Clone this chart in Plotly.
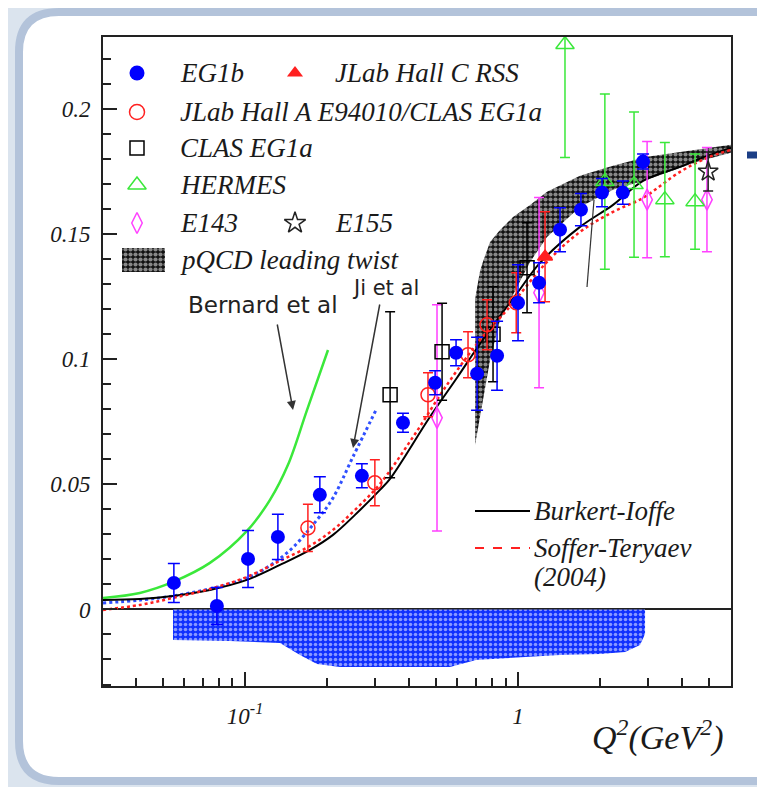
import plotly.graph_objects as go

# ---------------- data ----------------
eg1b_q2 = [0.0549, 0.0789, 0.1026, 0.132, 0.188, 0.268, 0.379, 0.497, 0.593, 0.708, 0.838, 1.0,
           1.194, 1.425, 1.70, 2.03, 2.42, 2.87]
eg1b_val = [0.0106, 0.0014, 0.0202, 0.029, 0.0458, 0.0534, 0.0746, 0.0906, 0.1026, 0.0942, 0.1014,
            0.1226, 0.1306, 0.1518, 0.1598, 0.1666, 0.1666, 0.179]
eg1b_err = [0.0078, 0.0074, 0.0114, 0.009, 0.0072, 0.0048, 0.0038, 0.0048, 0.0052, 0.0146, 0.0138,
            0.0152, 0.008, 0.0088, 0.0064, 0.0056, 0.0046, 0.003]

halla_q2 = [0.170, 0.299, 0.468, 0.656, 0.770, 0.985]
halla_val = [0.0326, 0.0506, 0.0858, 0.1018, 0.1138, 0.1226]
halla_err = [0.0094, 0.0092, 0.0088, 0.0092, 0.010, 0.012]

rss_q2 = [1.256]
rss_val = [0.141]
rss_err = [0.018]

eg1a_q2 = [0.340, 0.527, 0.810, 1.079]
eg1a_val = [0.0858, 0.103, 0.110, 0.1366]
eg1a_err = [0.0332, 0.0194, 0.019, 0.018]

hermes_q2 = [1.486, 2.08, 2.66, 3.45, 4.45]
hermes_val = [0.2258, 0.171, 0.1698, 0.1638, 0.163]
hermes_err = [0.0452, 0.035, 0.029, 0.0228, 0.019]

e143_q2 = [0.505, 1.194, 2.97, 4.92]
e143_val = [0.0766, 0.1266, 0.1638, 0.1638]
e143_err = [0.0452, 0.038, 0.0232, 0.0208]

e155_q2 = [4.97]
e155_val = [0.175]
e155_err = [0.0078]

bi_q2 = [0.0302, 0.0412, 0.0545, 0.0744, 0.1017, 0.1343, 0.1730, 0.2101, 0.2529, 0.3122, 0.3398,
         0.4761, 0.5977, 0.7078, 0.8377, 1.0, 1.2035, 1.6870, 2.2284, 2.8703, 3.9208, 4.9234, 6.0291]
bi_val = [0.0038, 0.0042, 0.0054, 0.0078, 0.0118, 0.0178, 0.0238, 0.0298, 0.0378, 0.0478, 0.0522,
          0.0770, 0.0926, 0.1045, 0.1157, 0.1269, 0.1385, 0.1529, 0.1617, 0.1713, 0.1769, 0.1813, 0.1845]

st_q2 = [0.0302, 0.0412, 0.0545, 0.0744, 0.1017, 0.1343, 0.1730, 0.2101, 0.2529, 0.3122, 0.4124,
         0.5495, 0.7259, 0.9115, 1.2774, 1.6870, 2.2284, 2.8703, 3.9208, 4.9234, 6.0291]
st_val = [-0.0002, 0.0018, 0.0046, 0.0082, 0.0130, 0.0194, 0.0254, 0.0318, 0.0398, 0.0502, 0.0689,
          0.0898, 0.1077, 0.1197, 0.1389, 0.1509, 0.1589, 0.1645, 0.1749, 0.1805, 0.1837]

bernard_q2 = [0.0302, 0.0412, 0.0545, 0.0744, 0.1017, 0.1235, 0.1437, 0.1687, 0.2014]
bernard_val = [0.0046, 0.0066, 0.0110, 0.0186, 0.0314, 0.0438, 0.0578, 0.0797, 0.1037]

ji_q2 = [0.0302, 0.0545, 0.1017, 0.1425, 0.1835, 0.2101, 0.2486, 0.3044]
ji_val = [0.0026, 0.0054, 0.0126, 0.0226, 0.0358, 0.0446, 0.0610, 0.0805]

pqcd_q2 = [0.696, 0.708, 0.726, 0.744, 0.790, 0.859, 0.959, 1.107, 1.277, 1.687, 2.228, 2.969, 4.526, 6.03]
pqcd_hi = [0.1241, 0.1293, 0.1353, 0.139, 0.1469, 0.1517, 0.1569, 0.1617, 0.1669, 0.1733, 0.1773,
           0.1809, 0.1837, 0.1857]
pqcd_lo = [0.0657, 0.0697, 0.0757, 0.0838, 0.0997, 0.1157, 0.1257, 0.1389, 0.1489, 0.1609, 0.1677,
           0.1717, 0.1789, 0.1825]

sys_q2 = [0.0545, 0.0881, 0.1343, 0.1590, 0.1835, 0.2228, 0.3696, 0.5636, 0.7018, 1.017, 1.425,
          1.997, 2.466, 2.798, 2.919]
sys_lo = [-0.0122, -0.0126, -0.0134, -0.0182, -0.0218, -0.0230, -0.0230, -0.0230, -0.0202, -0.0190,
          -0.0182, -0.0178, -0.0170, -0.0142, -0.0098]

x_tickvals = [0.1, 1]
x_ticktext = ["10<sup>-1</sup>", "1"]
x_minor = [0.04, 0.05, 0.06, 0.07, 0.08, 0.09, 0.2, 0.3, 0.4, 0.5, 0.6, 0.7, 0.8, 0.9, 2, 3, 4, 5]
y_tickvals = [0, 0.05, 0.1, 0.15, 0.2]
y_ticktext = ["0", "0.05", "0.1", "0.15", "0.2"]

# ---------------- geometry helpers (decorations only) ----------------
# page body adds an 8px margin, so the figure is shrunk by that amount
OFF = 8
L, R, T, B, W, H = 103, 731, 37, 686, 765, 787
def px(x):
    return (x - L) / (R - L)
def py(y):
    return 1 - (y - T) / (B - T)

SERIF = "Liberation Serif"
INK = "#1a1a1a"
BLUE = "#0000ff"
RED = "#ff2020"
GREEN = "#3ae83a"
MAG = "#ff40ff"
HATCH = dict(shape=".", bgcolor="#111111", fgcolor="white", size=5, solidity=0.55)

fig = go.Figure()

# systematic band
fig.add_trace(go.Scatter(
    x=sys_q2 + sys_q2[::-1], y=sys_lo + [0] * len(sys_q2), fill="toself", mode="lines",
    line=dict(width=0, color=BLUE), fillcolor="rgba(0,0,0,0)",
    fillpattern=dict(shape=".", bgcolor="#1030ff", fgcolor="white", size=5, solidity=0.4),
    hoverinfo="skip", showlegend=False))

# pQCD band
fig.add_trace(go.Scatter(
    x=pqcd_q2 + pqcd_q2[::-1], y=pqcd_hi + pqcd_lo[::-1], fill="toself", mode="lines",
    line=dict(width=0, color="black"), fillcolor="rgba(0,0,0,0)", fillpattern=HATCH,
    hoverinfo="skip", showlegend=False))

# curves
fig.add_trace(go.Scatter(x=bernard_q2, y=bernard_val, mode="lines", line_shape="spline",
                         line=dict(color=GREEN, width=2.5), showlegend=False))
fig.add_trace(go.Scatter(x=ji_q2, y=ji_val, mode="lines", line_shape="spline",
                         line=dict(color="#3050ff", width=3, dash="dot"), showlegend=False))
fig.add_trace(go.Scatter(x=bi_q2, y=bi_val, mode="lines", line_shape="spline",
                         line=dict(color="black", width=2), showlegend=False))
fig.add_trace(go.Scatter(x=st_q2, y=st_val, mode="lines", line_shape="spline",
                         line=dict(color=RED, width=2.5, dash="dot"), showlegend=False))

def pts(x, y, e, color, symbol, size, lw=1.5, cap=5):
    fig.add_trace(go.Scatter(
        x=x, y=y, mode="markers",
        marker=dict(symbol=symbol, size=size, color=color, line=dict(color=color, width=lw)),
        error_y=dict(type="data", array=e, color=color, thickness=1.5, width=cap),
        showlegend=False))

pts(e143_q2, e143_val, e143_err, MAG, "diamond-tall-open", 15)
pts(hermes_q2, hermes_val, hermes_err, GREEN, "triangle-up-open", 16)
pts(eg1a_q2, eg1a_val, eg1a_err, "black", "square-open", 14)
pts(halla_q2, halla_val, halla_err, RED, "circle-open", 14)
pts(rss_q2, rss_val, rss_err, RED, "triangle-up", 13)
pts(eg1b_q2, eg1b_val, eg1b_err, BLUE, "circle", 14, lw=0, cap=6)
pts(e155_q2, e155_val, e155_err, "#222222", "star-open", 15)

# ---------------- legend glyphs on an overlay axis ----------------
c1, c2 = px(137), px(295)
rows = [py(73), py(112), py(148), py(185), py(223), py(260)]
glyphs = [
    (c1, rows[0], BLUE, "circle", 15, 0),
    (c2, rows[0], RED, "triangle-up", 14, 0),
    (c1, rows[1], RED, "circle-open", 15, 1.5),
    (c1, rows[2], "black", "square-open", 14, 1.5),
    (c1, rows[3], GREEN, "triangle-up-open", 16, 1.5),
    (c1, rows[4], MAG, "diamond-tall-open", 15, 1.5),
    (c2, rows[4], "#222222", "star-open", 16, 1.5),
]
for gx, gy, col, sym, sz, lw in glyphs:
    fig.add_trace(go.Scatter(x=[gx], y=[gy], mode="markers", xaxis="x2", yaxis="y2",
                             marker=dict(symbol=sym, size=sz, color=col, line=dict(color=col, width=lw)),
                             showlegend=False, hoverinfo="skip"))
hx0, hx1, hy0, hy1 = px(122), px(165), py(272), py(248)
fig.add_trace(go.Scatter(x=[hx0, hx1, hx1, hx0, hx0], y=[hy0, hy0, hy1, hy1, hy0], xaxis="x2", yaxis="y2",
                         mode="lines", fill="toself", line=dict(width=0), fillcolor="rgba(0,0,0,0)",
                         fillpattern=HATCH, showlegend=False, hoverinfo="skip"))

legend_font = dict(family=SERIF, size=27, color=INK, style="italic")
ann = []
for tx, ty, txt in [(px(178), rows[0], "EG1b"), (px(333), rows[0], "JLab Hall C RSS"),
                    (px(178), rows[1], "JLab Hall A E94010/CLAS EG1a"),
                    (px(178), rows[2], "CLAS EG1a"), (px(178), rows[3], "HERMES"),
                    (px(178), rows[4], "E143"), (px(333), rows[4], "E155"),
                    (px(178), rows[5], "pQCD leading twist"),
                    (px(532), py(511), "Burkert-Ioffe"), (px(532), py(548), "Soffer-Teryaev"),
                    (px(532), py(577), "(2004)")]:
    ann.append(dict(x=tx, y=ty, xref="paper", yref="paper", text=txt, showarrow=False,
                    xanchor="left", yanchor="middle", font=legend_font))

ann.append(dict(x=px(263), y=py(305), xref="paper", yref="paper", text="Bernard et al",
                showarrow=False, xanchor="center", yanchor="middle",
                font=dict(family="DejaVu Sans", size=23, color="#222222")))
ann.append(dict(x=px(385), y=py(288), xref="paper", yref="paper", text="Ji et al",
                showarrow=False, xanchor="center", yanchor="middle",
                font=dict(family="DejaVu Sans", size=21, color="#222222")))
ann.append(dict(x=px(293), y=py(410), xref="paper", yref="paper", text="", showarrow=True,
                ax=-16, ay=-87, arrowhead=2, arrowsize=1.2, arrowwidth=1.5, arrowcolor="#333333"))
ann.append(dict(x=px(353), y=py(448), xref="paper", yref="paper", text="", showarrow=True,
                ax=27, ay=-145, arrowhead=2, arrowsize=1.2, arrowwidth=1.5, arrowcolor="#333333"))
ann.append(dict(x=px(657), y=py(735), xref="paper", yref="paper",
                text="Q<sup>2</sup>(GeV<sup>2</sup>)", showarrow=False,
                xanchor="center", yanchor="middle",
                font=dict(family=SERIF, size=34, color=INK, style="italic")))

# ---------------- decorative shapes ----------------
def rounded(x0, y0, x1, y1, r):
    X0, X1 = px(x0), px(x1)
    Y0, Y1 = py(y0), py(y1)
    rx = r / (R - L)
    ry = r / (B - T)
    return (f"M {X0+rx},{Y0} L {X1-rx},{Y0} Q {X1},{Y0} {X1},{Y0-ry} "
            f"L {X1},{Y1+ry} Q {X1},{Y1} {X1-rx},{Y1} L {X0+rx},{Y1} "
            f"Q {X0},{Y1} {X0},{Y1+ry} L {X0},{Y0-ry} Q {X0},{Y0} {X0+rx},{Y0} Z")

shapes = [
    dict(type="path", xref="paper", yref="paper", path=rounded(19, 12, 800, 781, 40),
         fillcolor="white", line=dict(color="#b3c3da", width=8), layer="below"),
    dict(type="line", xref="paper", yref="paper", x0=px(747), x1=px(766), y0=py(155), y1=py(155),
         line=dict(color="#1c3f86", width=7)),
    dict(type="line", xref="paper", yref="paper", x0=px(587), x1=px(594), y0=py(287), y1=py(200),
         line=dict(color="#333333", width=1.2)),
    dict(type="line", xref="paper", yref="paper", x0=px(475), x1=px(530), y0=py(511), y1=py(511),
         line=dict(color="black", width=1.8)),
    dict(type="line", xref="paper", yref="paper", x0=px(475), x1=px(530), y0=py(548), y1=py(548),
         line=dict(color=RED, width=1.8, dash="dash")),
]

tickfont = dict(family=SERIF, size=23, color=INK, style="italic")
fig.update_layout(
    width=W - OFF, height=H - OFF, autosize=False,
    margin=dict(l=L - OFF, r=W - R, t=T - OFF, b=H - B, pad=0),
    paper_bgcolor="#dbe4ee", plot_bgcolor="white",
    showlegend=False,
    xaxis=dict(type="log", range=[-1.520, 0.780], showgrid=False, zeroline=False,
               showline=True, linecolor="#222222", linewidth=2, mirror=True,
               ticks="inside", ticklen=14, tickwidth=1.5, tickcolor="#222222",
               tickvals=x_tickvals, ticktext=x_ticktext, tickfont=tickfont,
               ticklabelstandoff=8,
               minor=dict(ticks="inside", ticklen=8, tickwidth=1.5, tickcolor="#222222",
                          tickvals=x_minor, showgrid=False)),
    yaxis=dict(range=[-0.0306, 0.2288], showgrid=False, zeroline=True, zerolinecolor="#222222",
               zerolinewidth=1.5, showline=True, linecolor="#222222", linewidth=2, mirror=True,
               ticks="inside", ticklen=14, tickwidth=1.5, tickcolor="#222222",
               tickvals=y_tickvals, ticktext=y_ticktext, tickfont=tickfont,
               ticklabelstandoff=6,
               minor=dict(ticks="inside", ticklen=8, tickwidth=1.5, tickcolor="#222222",
                          dtick=0.01, tick0=0, showgrid=False)),
    xaxis2=dict(overlaying="x", range=[0, 1], visible=False, anchor="y2"),
    yaxis2=dict(overlaying="y", range=[0, 1], visible=False, anchor="x2"),
    annotations=ann, shapes=shapes,
)

fig.write_html("out.html")
